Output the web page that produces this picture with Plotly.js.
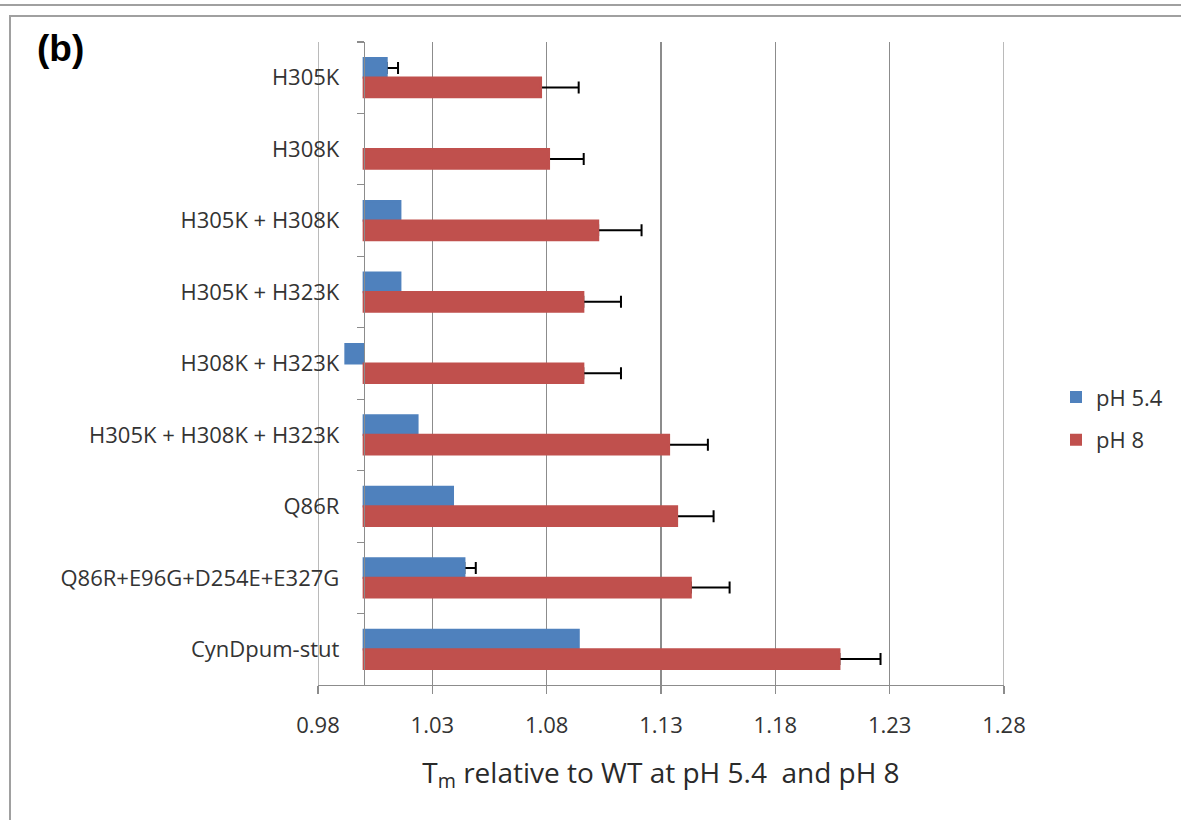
<!DOCTYPE html>
<html>
<head>
<meta charset="utf-8">
<script src="https://cdn.plot.ly/plotly-3.0.1.min.js"></script>
<style>
  html, body { margin: 0; padding: 0; background: #ffffff; }
  #wrap { position: relative; width: 1181px; height: 820px; overflow: hidden; }
  #chart { position: absolute; left: 0; top: 0; width: 1181px; height: 820px; }
  .rule { position: absolute; pointer-events: none; }
</style>
</head>
<body>
<div id="wrap">
  <!-- panel frames -->
  <div class="rule" style="left:-4px; top:-18px; width:1300px; height:20px; border:2px solid #a0a0a0;"></div>
  <div class="rule" style="left:9px; top:15px; width:1300px; height:900px; border:2px solid #a0a0a0;"></div>
  <div id="chart"></div>
</div>
<script>
// Mutants, top to bottom
const mutants = [
  'H305K',
  'H308K',
  'H305K + H308K',
  'H305K + H323K',
  'H308K + H323K',
  'H305K + H308K + H323K',
  'Q86R',
  'Q86R+E96G+D254E+E327G',
  'CynDpum-stut'
];

// Tm relative to WT at pH 5.4 (null = no bar / no error bar)
const tmPH54 = [1.010, null, 1.016, 1.016, 0.992, 1.0235, 1.039, 1.044, 1.094];
const errPH54 = [0.005, null, null, null, null, null, null, 0.005, null];

// Tm relative to WT at pH 8
const tmPH8 = [1.0775, 1.081, 1.1025, 1.096, 1.096, 1.1335, 1.137, 1.143, 1.208];
const errPH8 = [0.0165, 0.0152, 0.019, 0.0165, 0.0165, 0.017, 0.016, 0.017, 0.018];

// Value axis ticks
const xTicks = [0.98, 1.03, 1.08, 1.13, 1.18, 1.23, 1.28];
const xTickText = ['0.98', '1.03', '1.08', '1.13', '1.18', '1.23', '1.28'];

// Bars grow from the WT level (1.0)
const REF = 1.0;
const rel = arr => arr.map(v => (v === null ? null : v - REF));
// one-sided error bars; missing entries become NaN so nothing is drawn
const plusErr = arr => arr.map(e => (e === null ? NaN : e));
const minusErr = arr => arr.map(e => (e === null ? NaN : 0));

const FONT = 'Open Sans, DejaVu Sans, sans-serif';
const gray = '#8c8c8c';
const BLUE = '#4F81BD';
const RED = '#C0504D';

function barTrace(name, vals, errs, color, group, withErrors) {
  const t = {
    type: 'bar',
    orientation: 'h',
    name: name,
    offsetgroup: group,
    legendgroup: group,
    showlegend: withErrors,
    y: mutants,
    x: rel(vals),
    base: REF,
    marker: { color: color },
    yaxis: withErrors ? 'y' : 'y2'
  };
  if (withErrors) {
    t.error_x = {
      type: 'data', symmetric: false,
      array: plusErr(errs), arrayminus: minusErr(errs),
      color: '#000000', thickness: 2, width: 6
    };
  } else {
    // covering copy: a same-colour outline hides the error bar's inner cap
    t.marker.line = { color: color, width: 2.2 };
  }
  return t;
}

// Bars with error bars on the base subplot; the same bars are repeated on an
// overlaid subplot so the inner end of every error bar stays hidden under its bar.
const traces = [
  barTrace('pH 5.4', tmPH54, errPH54, BLUE, 'a', true),
  barTrace('pH 8', tmPH8, errPH8, RED, 'b', true),
  barTrace('pH 5.4', tmPH54, errPH54, BLUE, 'a', false),
  barTrace('pH 8', tmPH8, errPH8, RED, 'b', false)
];

const xMin = 0.98, xMax = 1.28;
const edgeLine = x => ({
  type: 'line', xref: 'x', yref: 'paper',
  x0: x, x1: x, y0: 0, y1: 1,
  line: { color: gray, width: 1.2 }, layer: 'below'
});

const layout = {
  width: 1181,
  height: 820,
  margin: { l: 318, r: 177, t: 42, b: 135 },
  paper_bgcolor: 'rgba(0,0,0,0)',
  plot_bgcolor: 'rgba(0,0,0,0)',
  barmode: 'group',
  bargap: 0.454,
  bargroupgap: 0,
  showlegend: true,
  legend: {
    x: (1056 - 318) / 686, xanchor: 'left',
    y: 0.414, yanchor: 'middle',
    traceorder: 'grouped',
    tracegroupgap: 11,
    font: { family: FONT, size: 22, color: '#333333' },
    itemwidth: 30,
    bgcolor: 'rgba(0,0,0,0)'
  },
  xaxis: {
    range: [xMin, xMax],
    tickvals: xTicks,
    ticktext: xTickText,
    showgrid: true,
    gridcolor: gray,
    gridwidth: 1.2,
    zeroline: false,
    showline: true,
    linecolor: gray,
    linewidth: 1.2,
    ticks: 'outside',
    ticklen: 8,
    tickcolor: gray,
    tickwidth: 1.2,
    tickfont: { family: FONT, size: 22, color: '#333333' },
    ticklabelstandoff: 12,
    title: {
      text: 'T<sub>m</sub> relative to WT at pH 5.4  and pH 8',
      font: { family: FONT, size: 28, color: '#2a2a2a' },
      standoff: 25
    },
    fixedrange: true
  },
  yaxis: {
    type: 'category',
    autorange: 'reversed',
    anchor: 'free',
    position: (REF - xMin) / (xMax - xMin),
    showgrid: false,
    zeroline: false,
    showline: true,
    linecolor: gray,
    linewidth: 1.2,
    ticks: 'outside',
    tickson: 'boundaries',
    ticklen: 7,
    tickcolor: gray,
    tickwidth: 1.2,
    tickfont: { family: FONT, size: 22, color: '#333333' },
    ticklabelstandoff: 20,
    fixedrange: true
  },
  yaxis2: {
    type: 'category',
    overlaying: 'y',
    autorange: 'reversed',
    visible: false,
    fixedrange: true
  },
  shapes: [edgeLine(xMin), edgeLine(xMax)],
  annotations: [
    {
      text: '(b)',
      xref: 'paper', yref: 'paper',
      x: (60 - 318) / 686, y: (685 - 49) / 643,
      xanchor: 'center', yanchor: 'middle',
      showarrow: false,
      font: { family: 'Liberation Sans, Arial, sans-serif', size: 37, color: '#000000', weight: 'bold' }
    }
  ]
};

Plotly.newPlot('chart', traces, layout, { displayModeBar: false, staticPlot: true });
</script>
</body>
</html>
